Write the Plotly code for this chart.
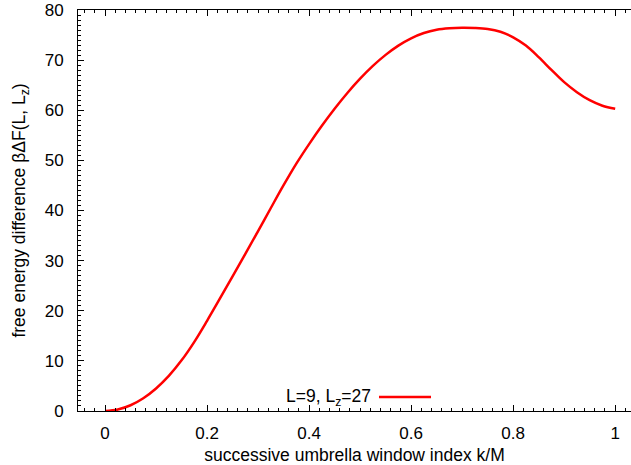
import plotly.graph_objects as go

# data
k_over_M = [0.0, 0.025, 0.05, 0.075, 0.1, 0.125, 0.15, 0.175, 0.2, 0.225,
            0.25, 0.275, 0.3, 0.325, 0.35, 0.375, 0.4, 0.425, 0.45, 0.475,
            0.5, 0.525, 0.55, 0.575, 0.6, 0.625, 0.65, 0.675, 0.7, 0.725,
            0.75, 0.775, 0.8, 0.825, 0.85, 0.875, 0.9, 0.925, 0.95, 0.975, 1.0]
free_energy = [0.0, 0.3, 1.15, 2.55, 4.5, 7.0, 10.1, 13.8, 18.0, 22.4,
               26.85, 31.35, 35.9, 40.5, 45.05, 49.35, 53.25, 56.9, 60.3, 63.45,
               66.3, 68.85, 71.05, 72.9, 74.35, 75.4, 76.05, 76.35, 76.45, 76.4,
               76.2, 75.65, 74.55, 72.9, 70.6, 68.05, 65.6, 63.6, 62.0, 60.9, 60.3]
series_label = "L=9, L<sub>z</sub>=27"
x_ticks = [0, 0.2, 0.4, 0.6, 0.8, 1]
x_ticktext = ["0", "0.2", "0.4", "0.6", "0.8", "1"]
y_ticks = [0, 10, 20, 30, 40, 50, 60, 70, 80]

FONT = "Liberation Sans, Arial, Helvetica, sans-serif"
RED = "#ff0000"

fig = go.Figure()
fig.add_trace(go.Scatter(
    x=k_over_M, y=free_energy, mode="lines",
    line=dict(color=RED, width=2.5, shape="spline", smoothing=1.0),
    name=series_label, showlegend=False,
))

W, H = 631, 465
ml, mr, mt, mb = 78, 0, 10, 54
pw, ph = W - ml - mr, H - mt - mb

def px_x(p):
    return (p - ml) / pw

def px_y(p):
    return (H - mb - p) / ph

# legend (gnuplot style: text then sample line)
fig.add_annotation(
    x=px_x(373), y=px_y(397), xref="paper", yref="paper",
    text=series_label, showarrow=False, xanchor="right", yanchor="middle",
    font=dict(family=FONT, size=17.5, color="black"),
)
fig.add_shape(
    type="line", xref="paper", yref="paper",
    x0=px_x(379), x1=px_x(431), y0=px_y(397), y1=px_y(397),
    line=dict(color=RED, width=2.5),
)

fig.update_layout(
    width=W, height=H,
    margin=dict(l=ml, r=mr, t=mt, b=mb),
    plot_bgcolor="white", paper_bgcolor="white",
    font=dict(family=FONT, size=17, color="black"),
    showlegend=False,
)
fig.update_xaxes(
    range=[-0.053, 1.031], tickvals=x_ticks, ticktext=x_ticktext,
    showgrid=False, zeroline=False,
    showline=True, linecolor="black", linewidth=1, mirror="ticks",
    ticks="inside", ticklen=6, tickcolor="black", tickwidth=1,
    minor=dict(dtick=0.02, tick0=0, ticks="inside", ticklen=3, tickcolor="black", showgrid=False),
    tickfont=dict(size=17), ticklabelstandoff=7,
    title=dict(text="successive umbrella window index k/M", font=dict(size=17.5), standoff=6),
)
fig.update_yaxes(
    range=[0, 80], tickvals=y_ticks,
    showgrid=False, zeroline=False,
    showline=True, linecolor="black", linewidth=1, mirror=False,
    ticks="inside", ticklen=6, tickcolor="black", tickwidth=1,
    minor=dict(dtick=1, tick0=0, ticks="inside", ticklen=3, tickcolor="black", showgrid=False),
    tickfont=dict(size=17), ticklabelstandoff=10,
    title=dict(text="free energy difference βΔF(L, L<sub>z</sub>)", font=dict(size=17.5), standoff=14),
)

fig.write_html("out.html")
